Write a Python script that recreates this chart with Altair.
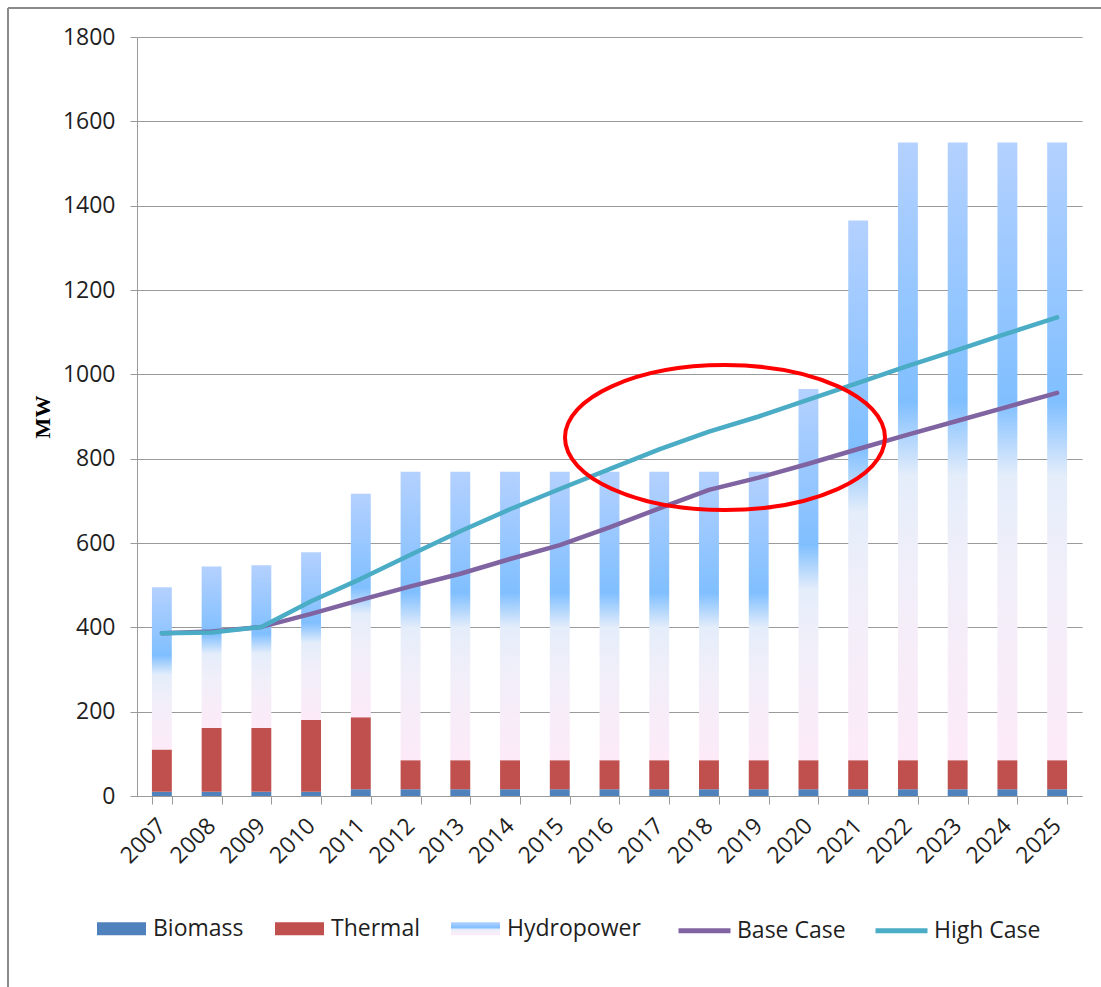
import altair as alt
import pandas as pd

# ---------------- data ----------------
years = ["2007", "2008", "2009", "2010", "2011", "2012", "2013", "2014", "2015", "2016",
         "2017", "2018", "2019", "2020", "2021", "2022", "2023", "2024", "2025"]
biomass = [10, 10, 10, 10, 16, 16, 16, 16, 16, 16, 16, 16, 16, 16, 16, 16, 16, 16, 16]
thermal = [100, 151, 151, 170, 171, 69, 69, 69, 69, 69, 69, 69, 69, 69, 69, 69, 69, 69, 69]
hydro_total = [495, 544, 547, 578, 717, 769, 769, 769, 769, 769, 769, 769, 769, 965, 1365,
               1550, 1550, 1550, 1550]
base_case = [386, 390, 401, 432, 465, 497, 527, 562, 595, 637, 682, 726, 755, 788, 823,
             857, 890, 923, 956]
high_case = [386, 388, 401, 462, 515, 572, 628, 680, 728, 775, 822, 864, 900, 940, 980,
             1020, 1058, 1097, 1135]

bar_series = ["Biomass", "Thermal", "Hydropower"]
line_series = ["Base Case", "High Case"]
line_colors = ["#8064a2", "#4bacc6"]
y_ticks = [0, 200, 400, 600, 800, 1000, 1200, 1400, 1600, 1800]

ellipse_year = ["2018"]
ellipse_mw = [850]

# gradient used for the hydropower fill (bottom -> top)
hydro_gradient_expr = (
    "{gradient: 'linear', x1: 0, y1: 1, x2: 0, y2: 0, stops: ["
    "{offset: 0, color: '#fdeaf8'}, {offset: 0.30, color: '#f1eff9'}, "
    "{offset: 0.46, color: '#e4edfa'}, {offset: 0.58, color: '#80bfff'}, "
    "{offset: 1, color: '#b4d1ff'}]}"
)
bar_colors = ["#4f81bd", "#c0504d", {"expr": hydro_gradient_expr}]

# ---------------- tables ----------------
stack_rows = []
for i, yr in enumerate(years):
    b = biomass[i]
    t = thermal[i]
    stack_rows.append({"year": yr, "series": "Biomass", "order": 0, "lo": 0, "hi": b})
    stack_rows.append({"year": yr, "series": "Thermal", "order": 1, "lo": b, "hi": b + t})
    stack_rows.append({"year": yr, "series": "Hydropower", "order": 2, "lo": b + t,
                       "hi": hydro_total[i]})
stack_df = pd.DataFrame(stack_rows)

line_df = pd.DataFrame(
    [{"year": yr, "case": "Base Case", "value": v} for yr, v in zip(years, base_case)]
    + [{"year": yr, "case": "High Case", "value": v} for yr, v in zip(years, high_case)]
)

ellipse_df = pd.DataFrame({"year": ellipse_year, "value": ellipse_mw})
frame_df = pd.DataFrame({"k": [0]})

FONT = "Open Sans"
TXT = "#1f1f1f"
GRID = "#9a9a9a"

x_enc = alt.X(
    "year:O",
    sort=years,
    scale=alt.Scale(paddingInner=0.6, paddingOuter=0.3),
    axis=alt.Axis(
        title=None,
        labelAngle=-45,
        labelAlign="right",
        labelBaseline="middle",
        labelPadding=18,
        tickSize=8,
        tickBand="extent",
        grid=False,
    ),
)

y_axis = alt.Axis(
    values=y_ticks,
    format="d",
    tickSize=7,
    labelPadding=15,
    grid=True,
    titleFont="Liberation Serif",
    titleFontWeight="bold",
    titleFontSize=22,
    titleColor="#000000",
    titlePadding=8,
)
y_scale = alt.Scale(domain=[0, 1800], nice=False)

# ---------------- layers ----------------
bars = alt.Chart(stack_df).mark_bar().encode(
    x=x_enc,
    y=alt.Y("lo:Q", scale=y_scale, axis=y_axis, title="MW"),
    y2="hi:Q",
    color=alt.Color(
        "series:N",
        scale=alt.Scale(domain=bar_series, range=bar_colors),
        legend=alt.Legend(
            title=None,
            orient="none",
            direction="horizontal",
            columns=3,
            legendX=-40,
            legendY=867,
            symbolType="M-1,-0.27L1,-0.27L1,0.27L-1,0.27Z",
            symbolSize=2401,
            symbolStrokeWidth=0,
            labelFont=FONT,
            labelFontSize=23,
            labelColor=TXT,
            labelOffset=7,
            columnPadding=31,
            padding=0,
        ),
    ),
    order=alt.Order("order:Q"),
)

lines = alt.Chart(line_df).mark_line(strokeWidth=4.5, strokeCap="round", strokeJoin="round").encode(
    x=x_enc,
    y=alt.Y("value:Q", scale=y_scale, axis=y_axis, title="MW"),
    stroke=alt.Stroke(
        "case:N",
        scale=alt.Scale(domain=line_series, range=line_colors),
        legend=alt.Legend(
            title=None,
            orient="none",
            direction="horizontal",
            columns=2,
            legendX=539,
            legendY=865,
            symbolType="stroke",
            symbolSize=2704,
            symbolStrokeWidth=5,
            labelFont=FONT,
            labelFontSize=23,
            labelColor=TXT,
            labelOffset=4,
            columnPadding=19,
            padding=0,
        ),
    ),
)

ellipse = alt.Chart(ellipse_df).mark_point(
    shape="M-1,0C-1,-0.25,-0.5523,-0.453,0,-0.453C0.5523,-0.453,1,-0.25,1,0"
          "C1,0.25,0.5523,0.453,0,0.453C-0.5523,0.453,-1,0.25,-1,0Z",
    size=102400,
    filled=False,
    stroke="#ff0000",
    strokeWidth=4,
    opacity=1,
    xOffset=16,
).encode(
    x=x_enc,
    y=alt.Y("value:Q", scale=y_scale, axis=y_axis, title="MW"),
)

frame_left = alt.Chart(frame_df).mark_rule(color="#8a8a8a", strokeWidth=2).encode(
    x=alt.value(-129), x2=alt.value(-129), y=alt.value(-29), y2=alt.value(960)
)
frame_top = alt.Chart(frame_df).mark_rule(color="#8a8a8a", strokeWidth=2).encode(
    x=alt.value(-129), x2=alt.value(970), y=alt.value(-29), y2=alt.value(-29)
)

chart = (
    alt.layer(bars, lines, ellipse, frame_left, frame_top)
    .properties(
        width=945,
        height=759,
        autosize=alt.AutoSizeParams(type="none"),
        padding={"left": 137, "top": 37, "right": 19, "bottom": 191},
        background="#ffffff",
    )
    .configure_view(stroke=None)
    .configure_axis(
        labelFont=FONT,
        labelFontSize=23,
        labelColor=TXT,
        domainColor=GRID,
        tickColor=GRID,
        gridColor=GRID,
        domainWidth=1,
        gridWidth=1,
    )
)

chart.save("out.html", embed_options={"renderer": "svg", "actions": False})
